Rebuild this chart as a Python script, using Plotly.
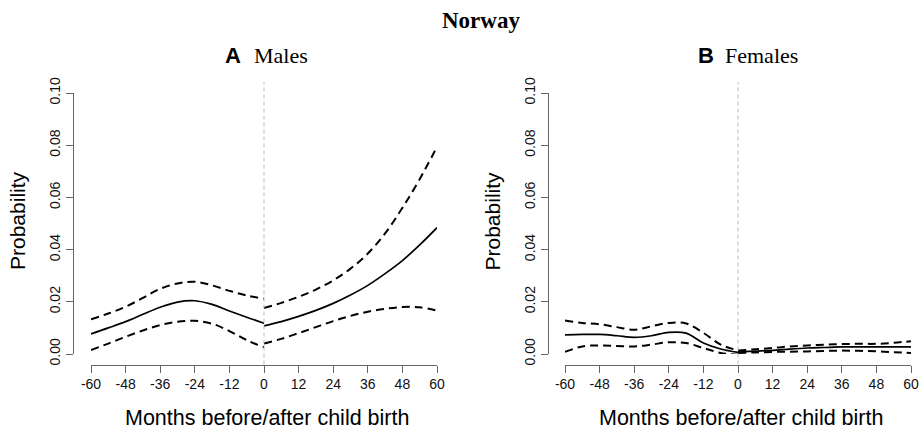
import plotly.graph_objects as go

# ---------------- data ----------------
months_before = [-60, -54, -48, -42, -36, -30, -24, -18, -12, -6, 0]
months_after = [0, 6, 12, 18, 24, 30, 36, 42, 48, 54, 60]

male_est_before = [0.0077, 0.0100, 0.0124, 0.0152, 0.0179, 0.0199, 0.0204, 0.0190, 0.0165, 0.0141, 0.0118]
male_up_before = [0.0133, 0.0155, 0.0181, 0.0215, 0.0250, 0.0270, 0.0277, 0.0263, 0.0242, 0.0224, 0.0212]
male_lo_before = [0.0015, 0.0040, 0.0066, 0.0090, 0.0111, 0.0124, 0.0127, 0.0116, 0.0088, 0.0053, 0.0026]
male_est_after = [0.0108, 0.0124, 0.0144, 0.0167, 0.0194, 0.0226, 0.0263, 0.0308, 0.0358, 0.0418, 0.0484]
male_up_after = [0.0176, 0.0196, 0.0219, 0.0247, 0.0282, 0.0327, 0.0385, 0.0462, 0.0560, 0.0670, 0.0794]
male_lo_after = [0.0040, 0.0058, 0.0080, 0.0103, 0.0126, 0.0146, 0.0162, 0.0173, 0.0180, 0.0179, 0.0166]

female_est_before = [0.0073, 0.0075, 0.0075, 0.0070, 0.0064, 0.0070, 0.0083, 0.0080, 0.0042, 0.0019, 0.0006]
female_up_before = [0.0128, 0.0119, 0.0114, 0.0103, 0.0093, 0.0106, 0.0119, 0.0117, 0.0081, 0.0036, 0.0014]
female_lo_before = [0.0008, 0.0029, 0.0033, 0.0031, 0.0029, 0.0036, 0.0045, 0.0042, 0.0023, 0.0004, -0.0003]
female_est_after = [0.0008, 0.0011, 0.0014, 0.0019, 0.0023, 0.0025, 0.0027, 0.0027, 0.0027, 0.0027, 0.0027]
female_up_after = [0.0013, 0.0018, 0.0023, 0.0029, 0.0033, 0.0036, 0.0038, 0.0039, 0.0039, 0.0043, 0.0049]
female_lo_after = [0.0004, 0.0006, 0.0008, 0.0009, 0.0010, 0.0012, 0.0013, 0.0012, 0.0010, 0.0007, 0.0004]

x_ticks = [-60, -48, -36, -24, -12, 0, 12, 24, 36, 48, 60]
x_tick_text = ["-60", "-48", "-36", "-24", "-12", "0", "12", "24", "36", "48", "60"]
y_ticks = [0.00, 0.02, 0.04, 0.06, 0.08, 0.10]
y_tick_text = ["0.00", "0.02", "0.04", "0.06", "0.08", "0.10"]

main_title = "Norway"
panel_letters = ["A", "B"]
panel_names = ["Males", "Females"]
x_title = "Months before/after child birth"
y_title = "Probability"

# ---------------- layout helpers ----------------
W, H = 920, 431


def px(x):
    return x / W


def py(y):
    return 1 - y / H


SANS = "Liberation Sans, Arial, sans-serif"
SERIF = "Liberation Serif, Times New Roman, serif"
AXC = "#666666"

fig = go.Figure()

panels = [
    dict(est_b=male_est_before, up_b=male_up_before, lo_b=male_lo_before,
         est_a=male_est_after, up_a=male_up_after, lo_a=male_lo_after,
         x0=91, x1=437, yax=73, xa="x", ya="y"),
    dict(est_b=female_est_before, up_b=female_up_before, lo_b=female_lo_before,
         est_a=female_est_after, up_a=female_up_after, lo_a=female_lo_after,
         x0=565, x1=911, yax=547.5, xa="x2", ya="y2"),
]

Y0PX, Y1PX = 354, 93      # pixel of 0.00 and 0.10
XAXIS_PX = 364.5

for i, p in enumerate(panels):
    for xs, key in [(months_before, "_b"), (months_after, "_a")]:
        fig.add_trace(go.Scatter(x=xs, y=p["est" + key], mode="lines",
                                 line=dict(color="black", width=1.7, shape="spline", smoothing=1.0),
                                 xaxis=p["xa"], yaxis=p["ya"], showlegend=False, hoverinfo="skip"))
        for k in ["up", "lo"]:
            fig.add_trace(go.Scatter(x=xs, y=p[k + key], mode="lines",
                                     line=dict(color="black", width=2, dash="8px,5px",
                                               shape="spline", smoothing=1.0),
                                     xaxis=p["xa"], yaxis=p["ya"], showlegend=False, hoverinfo="skip"))
    # vertical reference line at 0
    fig.add_shape(type="line", xref=p["xa"], yref="paper", x0=0, x1=0,
                  y0=py(XAXIS_PX), y1=py(82), line=dict(color="#bbbbbb", width=1, dash="4px,3px"))

    cx = (p["x0"] + p["x1"]) / 2 + 3
    # x title
    fig.add_annotation(x=px(cx), y=py(418), xref="paper", yref="paper", text=x_title,
                       showarrow=False, xanchor="center", yanchor="middle",
                       font=dict(family=SANS, size=21.5, color="black"))
    # y title
    fig.add_annotation(x=px(p["yax"] - 56), y=py(221), xref="paper", yref="paper", text=y_title,
                       showarrow=False, xanchor="center", yanchor="middle", textangle=-90,
                       font=dict(family=SANS, size=21, color="black"))

axis_common_x = dict(range=[-60, 60], tickvals=x_ticks, ticktext=x_tick_text, ticks="outside",
                     ticklen=7, tickwidth=1, automargin=False,
                     tickcolor=AXC, showline=True, linecolor=AXC, linewidth=1, showgrid=False,
                     zeroline=False, tickfont=dict(family=SANS, size=14, color="#111111"),
                     anchor="free", position=py(XAXIS_PX))
axis_common_y = dict(range=[0, 0.1], tickvals=y_ticks, ticktext=y_tick_text, ticks="outside", ticklen=7,
                     tickwidth=1, tickcolor=AXC, showline=True, linecolor=AXC, linewidth=1,
                     showgrid=False, zeroline=False, tickangle=-90, automargin=False,
                     tickfont=dict(family=SANS, size=14, color="#111111"),
                     anchor="free", domain=[py(Y0PX), py(Y1PX)])

fig.update_layout(
    template="none",
    width=W, height=H, margin=dict(l=0, r=0, t=0, b=0, pad=0),
    plot_bgcolor="white", paper_bgcolor="white",
    xaxis=dict(axis_common_x, domain=[px(91), px(437)]),
    yaxis=dict(axis_common_y, position=px(73)),
    xaxis2=dict(axis_common_x, domain=[px(565), px(911)]),
    yaxis2=dict(axis_common_y, position=px(547.5)),
)

# titles
fig.add_annotation(x=px(481), y=py(20), xref="paper", yref="paper", text="<b>" + main_title + "</b>",
                   showarrow=False, xanchor="center", yanchor="middle",
                   font=dict(family=SERIF, size=23, color="black"))
letter_pos = [(243, 252), (716, 723)]
for (lx, nx), letter, name in zip(letter_pos, panel_letters, panel_names):
    fig.add_annotation(x=px(lx), y=py(55), xref="paper", yref="paper", text="<b>" + letter + "</b>",
                       showarrow=False, xanchor="right", yanchor="middle",
                       font=dict(family=SANS, size=22, color="black"))
    fig.add_annotation(x=px(nx), y=py(55), xref="paper", yref="paper", text=name,
                       showarrow=False, xanchor="left", yanchor="middle",
                       font=dict(family=SERIF, size=22, color="black"))

fig.write_html("out.html", config={"displayModeBar": False},
               post_script="document.body.style.margin='0';document.body.style.overflow='hidden';")
